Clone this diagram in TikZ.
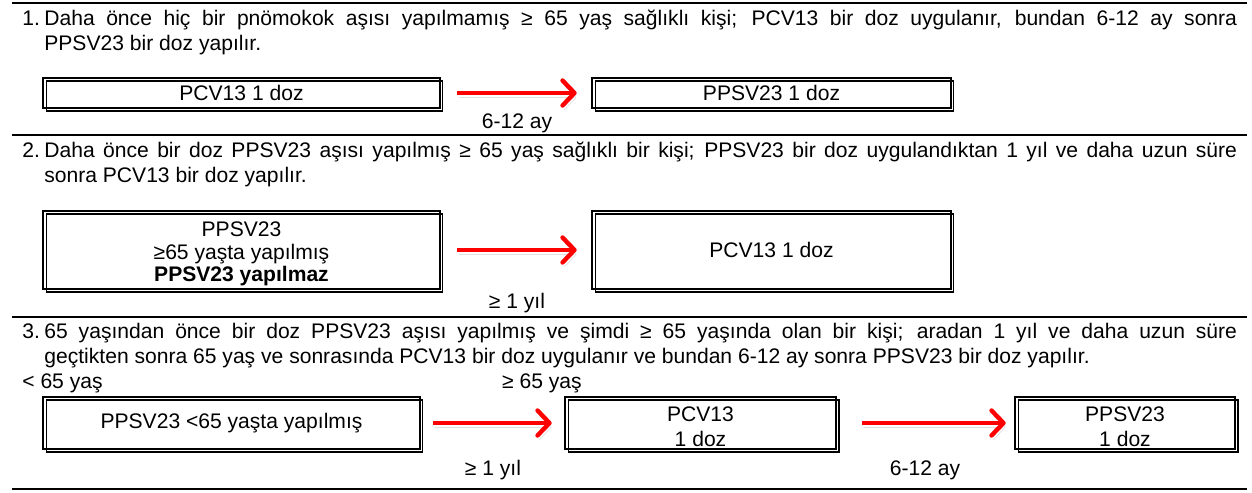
\documentclass[tikz,border=0pt]{standalone}
\usepackage{fontspec}
\setmainfont{Liberation Sans}
\usetikzlibrary{arrows.meta}
\hyphenpenalty=10000

\tikzset{
  kutu/.style={draw,line width=1.5pt,inner sep=0pt,align=center,
    postaction={draw,line width=0.6pt,transform canvas={shift={(0.06cm,-0.06cm)}}}},
  ok/.style={red,line width=2.5pt,-{Straight Barb[length=0.24cm,width=0.5cm,round]},
    preaction={draw=black!12,transform canvas={shift={(0.03cm,-0.09cm)}}}},
  yazi/.style={anchor=north west,inner sep=0pt,text width=23.86cm,align=justify},
  madde/.style={anchor=north west,inner sep=0pt},
  cizgi/.style={line width=1.4pt}
}
\newcommand{\ustbosluk}{\rule{0pt}{13pt}}

\begin{document}
\begin{tikzpicture}[x=0.02cm,y=-0.02cm,font=\fontsize{12}{14.2}\selectfont]
\useasboundingbox (0,0) rectangle (1252,493);
\draw[cizgi] (12,3)--(1247,3);
\draw[cizgi] (12,135)--(1247,135);
\draw[cizgi] (12,317)--(1247,317);
\draw[cizgi] (12,489)--(1247,489);

\node[madde] (no1) at (22,8) {\strut 1.};
\node[yazi] (yazi1) at (44,8) {\strut Daha önce hiç bir pnömokok aşısı yapılmamış ≥ 65 yaş sağlıklı kişi; PCV13 bir doz uygulanır, bundan 6-12 ay sonra\linebreak PPSV23 bir doz yapılır.};
\node[kutu,minimum width=7.94cm,minimum height=0.6cm] (pcv1) at (241.5,93) {PCV13 1 doz};
\node[kutu,minimum width=7.18cm,minimum height=0.6cm] (ppsv1) at (771.5,93) {PPSV23 1 doz};
\draw[ok,shorten <=0.32cm,shorten >=0.28cm] (pcv1.east)--(ppsv1.west);
\node (ay1) at (517,123) {6-12 ay};

\node[madde] (no2) at (22,140) {\strut 2.};
\node[yazi] (yazi2) at (44,140) {\strut Daha önce bir doz PPSV23 aşısı yapılmış ≥ 65 yaş sağlıklı bir kişi; PPSV23 bir doz uygulandıktan 1 yıl ve daha uzun süre\linebreak sonra PCV13 bir doz yapılır.};
\node[kutu,minimum width=7.94cm,minimum height=1.56cm] (ppsv2) at (241.5,250) {\ustbosluk PPSV23\\[-1.4pt]≥65 yaşta yapılmış\\[-1.4pt]\textbf{PPSV23 yapılmaz}};
\node[kutu,minimum width=7.18cm,minimum height=1.56cm] (pcv2) at (771.5,250) {PCV13 1 doz};
\draw[ok,shorten <=0.32cm,shorten >=0.28cm] (ppsv2.east)--(pcv2.west);
\node (yil2) at (517,303) {≥ 1 yıl};

\node[madde] (no3) at (22,321) {\strut 3.};
\node[yazi] (yazi3) at (44,321) {\strut 65 yaşından önce bir doz PPSV23 aşısı yapılmış ve şimdi ≥ 65 yaşında olan bir kişi; aradan 1 yıl ve daha uzun süre\linebreak geçtikten sonra 65 yaş ve sonrasında PCV13 bir doz uygulanır ve bundan 6-12 ay sonra PPSV23 bir doz yapılır.};
\node[anchor=west,inner sep=0pt] (alt65) at (22,383) {< 65 yaş};
\node (ust65) at (542,383) {≥ 65 yaş};
\node[kutu,minimum width=7.54cm,minimum height=1.04cm] (ppsv3) at (231.5,423) {PPSV23 <65 yaşta yapılmış};
\node[kutu,minimum width=5.42cm,minimum height=1.04cm] (pcv3) at (700.5,423) {\ustbosluk PCV13\\1 doz};
\node[kutu,minimum width=4.4cm,minimum height=1.04cm] (ppsv3b) at (1125,423) {\ustbosluk PPSV23\\1 doz};
\draw[ok,shorten <=0.24cm,shorten >=0.24cm] (ppsv3.east)--(pcv3.west);
\draw[ok,shorten <=0.5cm,shorten >=0.16cm] (pcv3.east)--(ppsv3b.west);
\node (yil3) at (493,470) {≥ 1 yıl};
\node (ay3) at (925,470) {6-12 ay};
\end{tikzpicture}
\end{document}
